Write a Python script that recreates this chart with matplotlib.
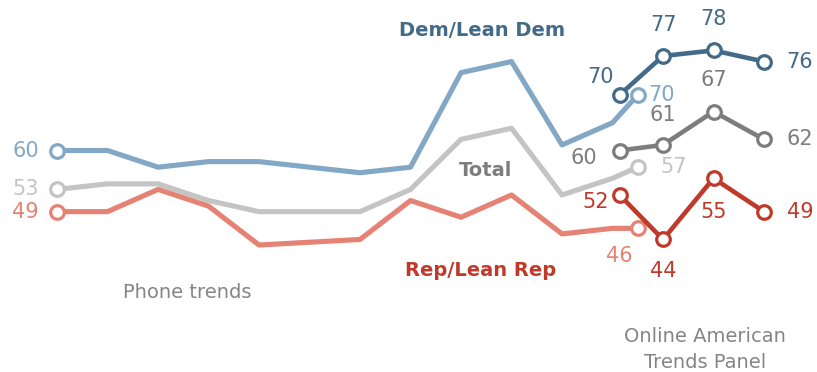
import matplotlib
matplotlib.use("Agg")
import matplotlib.pyplot as plt

# Survey waves (decimal years) and shares (%)
phone_years = [2007, 2008, 2009, 2010, 2011, 2013, 2014, 2015, 2016, 2017, 2018, 2018.5]
phone_dem = [60, 60, 57, 58, 58, 56, 57, 74, 76, 61, 65, 70]
phone_total = [53, 54, 54, 51, 49, 49, 53, 62, 64, 52, 55, 57]
phone_rep = [49, 49, 53, 50, 43, 44, 51, 48, 52, 45, 46, 46]

panel_years = [2018.14, 2019, 2020, 2021]
panel_dem = [70, 77, 78, 76]
panel_total = [60, 61, 67, 62]
panel_rep = [52, 44, 55, 49]

LIGHT_DEM, DARK_DEM = "#82a8c5", "#436a88"
LIGHT_TOT, DARK_TOT = "#c4c4c4", "#7d7d7d"
LIGHT_REP, DARK_REP = "#e58273", "#bf3a2b"

FONT = "DejaVu Sans"

fig = plt.figure(figsize=(8.17, 3.72), dpi=100)
ax = fig.add_axes([0, 0, 1, 1])
ax.set_xlim(2005.871, 2022.049)
ax.set_ylim(20.16, 87.07)
ax.axis("off")


def draw_phone(xs, ys, color, z):
    ax.plot(xs, ys, color=color, lw=3.7, zorder=z)
    # open circles on the first and last phone waves
    ax.plot([xs[0], xs[-1]], [ys[0], ys[-1]], ls="none", marker="o", ms=9.8,
            mfc="white", mec=color, mew=2.3, zorder=z + 0.5)


def draw_panel(xs, ys, color, z):
    ax.plot(xs, ys, color=color, lw=3.3, zorder=z)
    ax.plot(xs, ys, ls="none", marker="o", ms=9.8, mfc="white", mec=color,
            mew=2.3, zorder=z + 0.5)


for ys, c, z in [(phone_dem, LIGHT_DEM, 3), (phone_total, LIGHT_TOT, 2), (phone_rep, LIGHT_REP, 2.5)]:
    draw_phone(phone_years, ys, c, z)

for ys, c, z in [(panel_dem, DARK_DEM, 6), (panel_total, DARK_TOT, 5), (panel_rep, DARK_REP, 5.5)]:
    draw_panel(panel_years, ys, c, z)


def label(x, y, dx, dy, color, ha="center"):
    ax.annotate(f"{y}", xy=(x, y), xytext=(dx, -dy), textcoords="offset pixels",
                ha=ha, va="center", fontsize=15, color=color, family=FONT,
                zorder=10)


# first phone values
label(phone_years[0], phone_dem[0], -18, 0, LIGHT_DEM, ha="right")
label(phone_years[0], phone_total[0], -18, 0, LIGHT_TOT, ha="right")
label(phone_years[0], phone_rep[0], -18, 0, LIGHT_REP, ha="right")
# last phone values
label(phone_years[-1], phone_dem[-1], 10, 0, LIGHT_DEM, ha="left")
label(phone_years[-1], phone_total[-1], 23, 0, LIGHT_TOT, ha="left")
label(phone_years[-1], phone_rep[-1], -18, 28, LIGHT_REP)

# panel values
dem_off = [(-19, -18), (0, -31), (0, -31), (36, 0)]
tot_off = [(-36, 7), (0, -30), (0, -32), (36, 0)]
rep_off = [(-24, 7), (0, 32), (0, 34), (36, 0)]
for ys, c, offs in [(panel_dem, DARK_DEM, dem_off), (panel_total, DARK_TOT, tot_off),
                    (panel_rep, DARK_REP, rep_off)]:
    for x, y, (dx, dy) in zip(panel_years, ys, offs):
        label(x, y, dx, dy, c)

W, H = 817, 372


def ftext(px, py, s, color, bold=False, size=14.5):
    fig.text(px / W, 1 - py / H, s, ha="center", va="center", color=color,
             fontsize=size, family=FONT, fontweight="bold" if bold else "normal")


ftext(482, 30, "Dem/Lean Dem", DARK_DEM, bold=True, size=14)
ftext(486, 170, "Total", DARK_TOT, bold=True, size=14)
ftext(481, 270, "Rep/Lean Rep", DARK_REP, bold=True, size=14)
ftext(187, 292, "Phone trends", "#858585", size=14)
ftext(705, 337, "Online American", "#858585", size=14)
ftext(705, 362, "Trends Panel", "#858585", size=14)

fig.savefig("out.png", dpi=100)
